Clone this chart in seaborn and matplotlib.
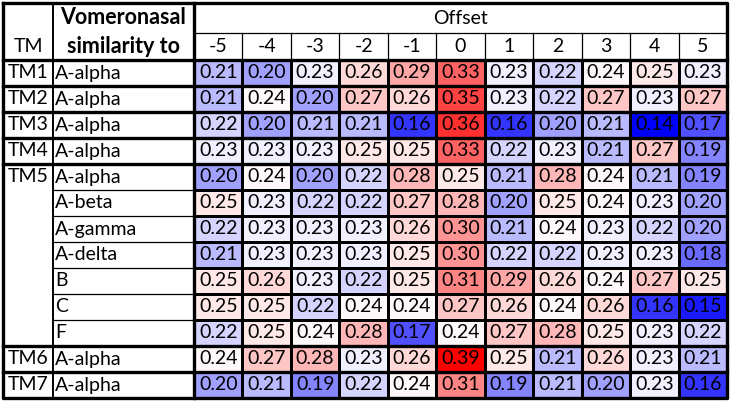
import numpy as np
import pandas as pd
import seaborn as sns
import matplotlib
matplotlib.use("Agg")
import matplotlib.pyplot as plt
from matplotlib.colors import LinearSegmentedColormap, TwoSlopeNorm

# data
offsets = [-5, -4, -3, -2, -1, 0, 1, 2, 3, 4, 5]
tm_labels = ["TM1", "TM2", "TM3", "TM4", "TM5", "", "", "", "", "", "", "TM6", "TM7"]
similarity = ["A-alpha", "A-alpha", "A-alpha", "A-alpha", "A-alpha", "A-beta",
              "A-gamma", "A-delta", "B", "C", "F", "A-alpha", "A-alpha"]
tm1 = [0.21, 0.20, 0.23, 0.26, 0.29, 0.33, 0.23, 0.22, 0.24, 0.25, 0.23]
tm2 = [0.21, 0.24, 0.20, 0.27, 0.26, 0.35, 0.23, 0.22, 0.27, 0.23, 0.27]
tm3 = [0.22, 0.20, 0.21, 0.21, 0.16, 0.36, 0.16, 0.20, 0.21, 0.14, 0.17]
tm4 = [0.23, 0.23, 0.23, 0.25, 0.25, 0.33, 0.22, 0.23, 0.21, 0.27, 0.19]
tm5_a_alpha = [0.20, 0.24, 0.20, 0.22, 0.28, 0.25, 0.21, 0.28, 0.24, 0.21, 0.19]
tm5_a_beta = [0.25, 0.23, 0.22, 0.22, 0.27, 0.28, 0.20, 0.25, 0.24, 0.23, 0.20]
tm5_a_gamma = [0.22, 0.23, 0.23, 0.23, 0.26, 0.30, 0.21, 0.24, 0.23, 0.22, 0.20]
tm5_a_delta = [0.21, 0.23, 0.23, 0.23, 0.25, 0.30, 0.22, 0.22, 0.23, 0.23, 0.18]
tm5_b = [0.25, 0.26, 0.23, 0.22, 0.25, 0.31, 0.29, 0.26, 0.24, 0.27, 0.25]
tm5_c = [0.25, 0.25, 0.22, 0.24, 0.24, 0.27, 0.26, 0.24, 0.26, 0.16, 0.15]
tm5_f = [0.22, 0.25, 0.24, 0.28, 0.17, 0.24, 0.27, 0.28, 0.25, 0.23, 0.22]
tm6 = [0.24, 0.27, 0.28, 0.23, 0.26, 0.39, 0.25, 0.21, 0.26, 0.23, 0.21]
tm7 = [0.20, 0.21, 0.19, 0.22, 0.24, 0.31, 0.19, 0.21, 0.20, 0.23, 0.16]

rows = [tm1, tm2, tm3, tm4, tm5_a_alpha, tm5_a_beta, tm5_a_gamma, tm5_a_delta,
        tm5_b, tm5_c, tm5_f, tm6, tm7]
df = pd.DataFrame(rows, columns=offsets)

plt.rcParams['font.family'] = ['Lato', 'DejaVu Sans']
fs = 14

W, H = 732, 403
fig = plt.figure(figsize=(W / 100, H / 100), dpi=100)
# data area in pixels: x 194..727, y 60..398
ax = fig.add_axes([194 / W, (H - 398) / H, 533 / W, 338 / H])

# three colour scale: min blue, mid white, max red
vals = df.values.ravel()
cmap = LinearSegmentedColormap.from_list("bwr3", ["#0000FF", "#FFFFFF", "#FF0000"])
norm = TwoSlopeNorm(vmin=vals.min(), vcenter=0.236, vmax=vals.max())

sns.heatmap(df, ax=ax, cmap=cmap, norm=norm, annot=True, fmt=".2f", cbar=False,
            linewidths=0.9, linecolor="black",
            annot_kws=dict(color="black", fontsize=fs))
ax.set_xticks([])
ax.set_yticks([])
ax.set_xlabel("")
ax.set_ylabel("")

# table geometry in data units (1 col = 48.45 px, 1 row = 26 px)
cw, rh = 533 / 11, 338 / 13
x_left = (3 - 194) / cw
x_mid = (53 - 194) / cw
y_top = (3 - 60) / rh
y_off = (33 - 60) / rh
n = len(rows)

def line(xs, ys, lw):
    ax.plot(xs, ys, color="black", lw=lw, clip_on=False, solid_capstyle="projecting")

thin, thick = 0.9, 2.4
# header lines
line([0, 11], [y_off, y_off], thin)
for j in range(1, 11):
    line([j, j], [y_off, 0], thin)
line([x_left, 11], [0, 0], thick)
# label columns horizontal lines
for r in range(5, 11):
    line([x_mid, 0], [r, r], thin)
for r in [1, 2, 3, 4, 11, 12]:
    line([x_left, 11], [r, r], thick)
# verticals
line([x_mid, x_mid], [y_top, n], 1.4)
line([0, 0], [y_top, n], thick)
# outer frame
line([x_left, 11, 11, x_left, x_left], [y_top, y_top, n, n, y_top], thick)

# header text
ax.text(5.5, (y_top + y_off) / 2, "Offset", ha="center", va="center", fontsize=fs)
for j, o in enumerate(offsets):
    ax.text(j + 0.5, y_off / 2, str(o), ha="center", va="center", fontsize=fs)
ax.text((x_left + x_mid) / 2, y_off / 2, "TM", ha="center", va="center", fontsize=fs)
ax.text(x_mid / 2, (y_top + y_off) / 2, "Vomeronasal", ha="center", va="center",
        fontsize=15.5, fontweight="bold")
ax.text(x_mid / 2, y_off / 2, "similarity to", ha="center", va="center",
        fontsize=15.5, fontweight="bold")

# row labels
for i in range(n):
    if tm_labels[i]:
        ax.text((x_left + x_mid) / 2, i + 0.5, tm_labels[i], ha="center", va="center", fontsize=fs)
    ax.text(x_mid + 0.05, i + 0.5, similarity[i], ha="left", va="center", fontsize=fs)

fig.savefig("out.png", dpi=100)
